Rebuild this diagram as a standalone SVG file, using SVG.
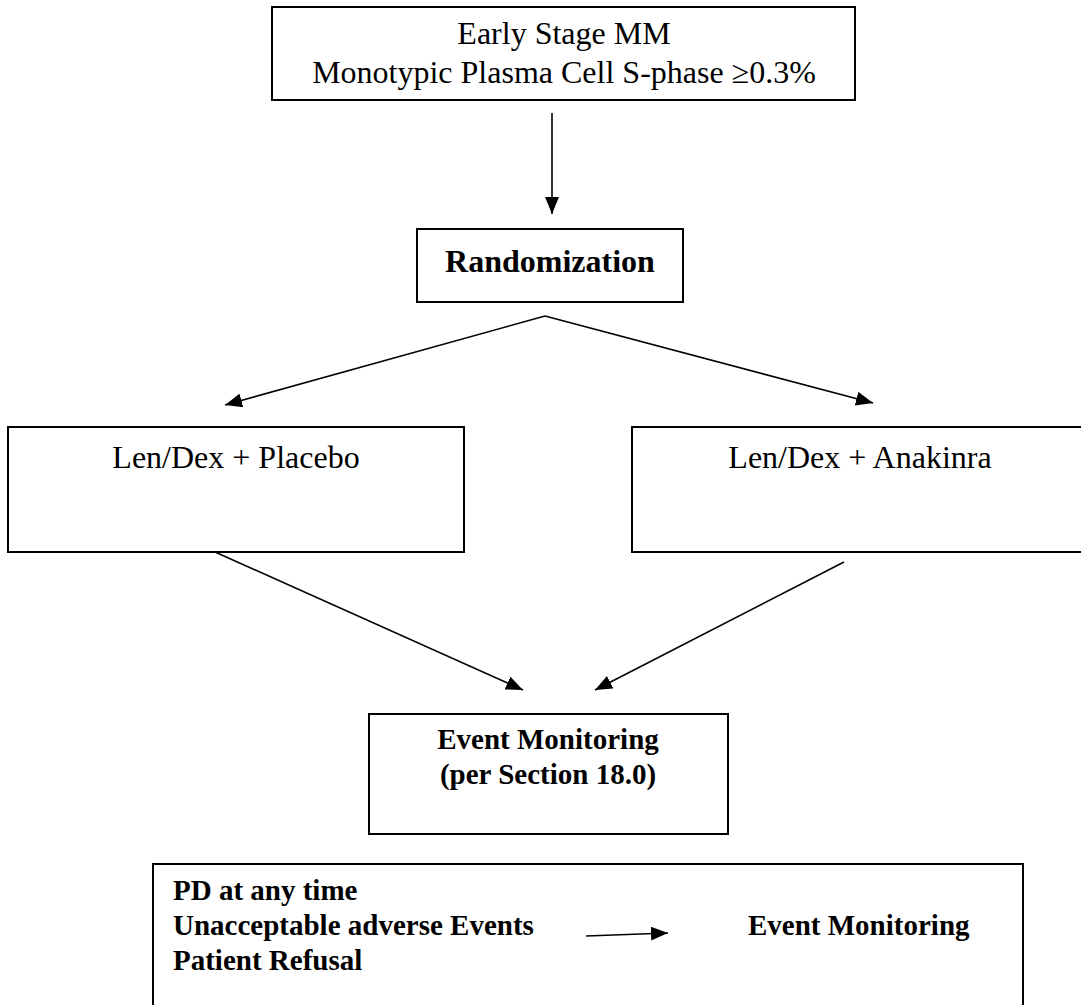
<svg xmlns="http://www.w3.org/2000/svg" width="1081" height="1005" viewBox="0 0 1081 1005">
<style>
  .box { fill: #ffffff; stroke: #000000; stroke-width: 2; }
  .t { font-family: "Liberation Serif", "Times New Roman", serif; font-size: 32px; fill: #000000; }
  .b { font-family: "Liberation Serif", "Times New Roman", serif; font-size: 32px; font-weight: bold; fill: #000000; }
  .bs { font-family: "Liberation Serif", "Times New Roman", serif; font-size: 29px; font-weight: bold; fill: #000000; }
  .c { text-anchor: middle; }
  .edge { fill: none; stroke: #000000; stroke-width: 1.6; }
</style>
<defs>
  <marker id="ah" markerUnits="userSpaceOnUse" markerWidth="18" markerHeight="14" refX="17" refY="7" orient="auto">
    <path d="M0,0 L17,7 L0,14 z" fill="#000000"/>
  </marker>
</defs>
<rect x="0" y="0" width="1081" height="1005" fill="#ffffff"/>

<g id="node-early-stage">
  <rect class="box" x="272" y="7" width="583" height="93"/>
  <text class="t c" x="564" y="44">Early Stage MM</text>
  <text class="t c" x="564" y="83">Monotypic Plasma Cell S-phase ≥0.3%</text>
</g>

<g id="node-randomization">
  <rect class="box" x="417" y="229" width="266" height="73"/>
  <text class="b c" x="550" y="272">Randomization</text>
</g>

<g id="node-placebo">
  <rect class="box" x="8" y="427" width="456" height="125"/>
  <text class="t c" x="236" y="468">Len/Dex + Placebo</text>
</g>

<g id="node-anakinra">
  <rect class="box" x="632" y="427" width="460" height="125"/>
  <text class="t c" x="860" y="468">Len/Dex + Anakinra</text>
</g>

<g id="node-event-monitoring">
  <rect class="box" x="369" y="714" width="359" height="120"/>
  <text class="bs c" x="548" y="749">Event Monitoring</text>
  <text class="bs c" x="548" y="784">(per Section 18.0)</text>
</g>

<g id="node-off-study">
  <rect class="box" x="153" y="864" width="870" height="160"/>
  <text class="bs" x="173" y="900">PD at any time</text>
  <text class="bs" x="173" y="935">Unacceptable adverse Events</text>
  <text class="bs" x="173" y="970">Patient Refusal</text>
  <text class="bs" x="748" y="935">Event Monitoring</text>
</g>

<g id="connectors">
  <line class="edge" x1="552" y1="113" x2="552" y2="214" marker-end="url(#ah)"/>
  <line class="edge" x1="545" y1="316" x2="225" y2="405" marker-end="url(#ah)"/>
  <line class="edge" x1="545" y1="316" x2="873" y2="403" marker-end="url(#ah)"/>
  <line class="edge" x1="215" y1="552" x2="523" y2="690" marker-end="url(#ah)"/>
  <line class="edge" x1="844" y1="562" x2="595" y2="690" marker-end="url(#ah)"/>
  <line class="edge" x1="586" y1="936" x2="668" y2="933" marker-end="url(#ah)"/>
</g>
</svg>
